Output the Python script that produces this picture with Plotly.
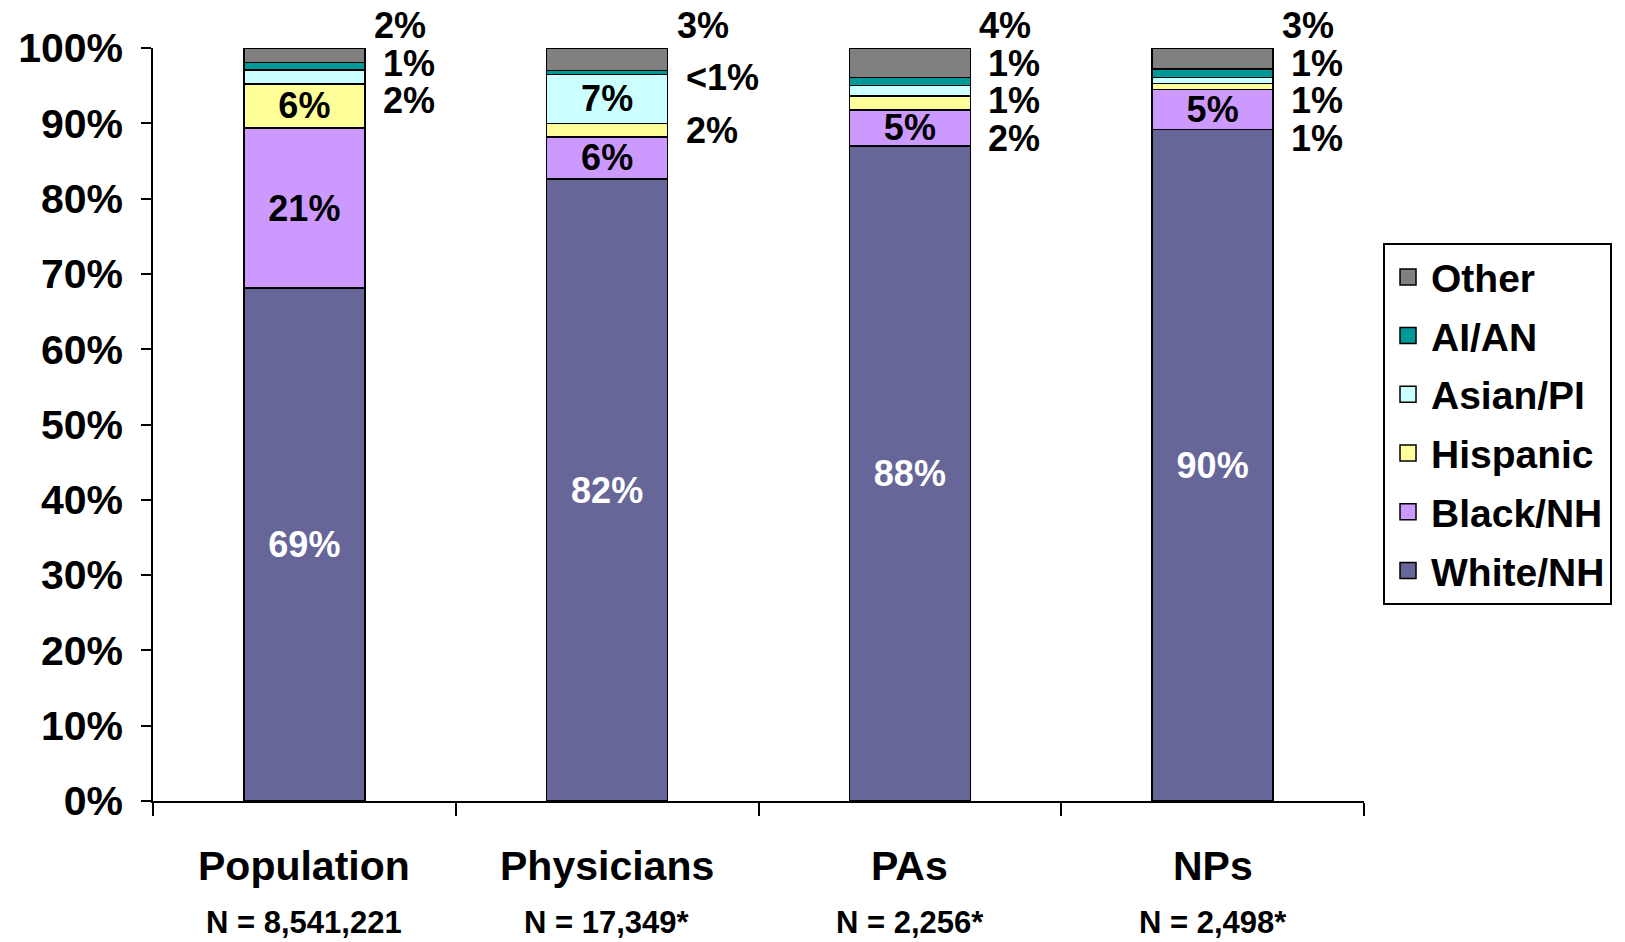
import plotly.graph_objects as go

# categories and sample sizes
categories = ["Population", "Physicians", "PAs", "NPs"]
sample_sizes = ["N = 8,541,221", "N = 17,349*", "N = 2,256*", "N = 2,498*"]

# percent shares (bottom to top of each bar)
white_nh = [68.1, 82.6, 87.0, 89.2]
black_nh = [21.3, 5.6, 4.8, 5.3]
hispanic = [5.8, 1.8, 1.8, 0.8]
asian_pi = [1.9, 6.5, 1.4, 0.8]
ai_an = [1.0, 0.5, 1.1, 1.1]
other = [1.9, 3.0, 3.9, 2.8]

# printed labels
white_lbl = ["69%", "82%", "88%", "90%"]
black_lbl = ["21%", "6%", "5%", "5%"]
hispanic_lbl = ["6%", "2%", "2%", "1%"]
asian_lbl = ["2%", "7%", "1%", "1%"]
aian_lbl = ["1%", "<1%", "1%", "1%"]
other_lbl = ["2%", "3%", "4%", "3%"]

FONT = "Liberation Sans, Arial, sans-serif"
BAR_W = 0.4
INSIDE_MIN = 4.5  # smaller segments get their label beside the bar
Y_MAX = 100

series = [
    ("White/NH", white_nh, white_lbl, "#666699", "white"),
    ("Black/NH", black_nh, black_lbl, "#CC99FF", "black"),
    ("Hispanic", hispanic, hispanic_lbl, "#FFFF99", "black"),
    ("Asian/PI", asian_pi, asian_lbl, "#CCFFFF", "black"),
    ("AI/AN", ai_an, aian_lbl, "#009999", "black"),
    ("Other", other, other_lbl, "#808080", "black"),
]

xs = list(range(len(categories)))

fig = go.Figure()
for name, vals, lbls, color, tcolor in series:
    inside = [l if v >= INSIDE_MIN else "" for v, l in zip(vals, lbls)]
    fig.add_trace(go.Bar(
        x=xs, y=vals, name=name, width=BAR_W, showlegend=False,
        marker=dict(color=color, line=dict(color="black", width=1.5)),
        text=inside, textposition="inside", insidetextanchor="middle",
        textangle=0, constraintext="none",
        textfont=dict(family=FONT, size=36, color=tcolor, weight="bold"),
        hoverinfo="skip",
    ))

# legend entries with big square swatches, Other on top
for name, vals, lbls, color, tcolor in reversed(series):
    fig.add_trace(go.Scatter(
        x=[None], y=[None], mode="markers", name=name, legendgroup=name,
        marker=dict(symbol="square", size=24, color=color,
                    line=dict(color="black", width=1.5)),
    ))

# labels for thin segments, stacked beside the bar from the top down
for i in xs:
    base = 0
    centers = []
    for name, vals, lbls, color, tcolor in series:
        centers.append((base + vals[i] / 2, vals[i], lbls[i]))
        base += vals[i]
    outside = [c for c in reversed(centers[2:]) if c[1] < INSIDE_MIN]
    n = len(outside)
    top = base + 3
    step = 5.0
    if n > 1:
        step = max(5.0, (top - outside[-1][0]) / (n - 1))
    for k, (c, v, lbl) in enumerate(outside):
        fig.add_annotation(
            x=i + BAR_W / 2, y=(top - k * step) / Y_MAX, xref="x", yref="paper",
            text=lbl, showarrow=False, xanchor="left", yanchor="middle",
            xshift=7 if k == 0 else 16,
            font=dict(family=FONT, size=36, color="black", weight="bold"),
        )

# category names and sample sizes under the axis
for i, (cat, n_lbl) in enumerate(zip(categories, sample_sizes)):
    fig.add_annotation(x=i, y=-0.086, xref="x", yref="paper", text=cat,
                       showarrow=False, yanchor="middle",
                       font=dict(family=FONT, size=41, color="black", weight="bold"))
    fig.add_annotation(x=i, y=-0.162, xref="x", yref="paper", text=n_lbl,
                       showarrow=False, yanchor="middle",
                       font=dict(family=FONT, size=31, color="black", weight="bold"))

fig.update_layout(
    width=1625, height=942,
    margin=dict(l=153, r=261, t=48, b=141),
    barmode="stack", bargap=0.6,
    plot_bgcolor="white", paper_bgcolor="white",
    font=dict(family=FONT, color="black", weight="bold"),
    legend=dict(
        x=1.0157, y=0.741, xanchor="left", yanchor="top",
        traceorder="grouped", tracegroupgap=5, itemsizing="trace",
        itemwidth=36,
        bordercolor="black", borderwidth=2, bgcolor="white",
        font=dict(family=FONT, size=39, color="black", weight="bold"),
    ),
    showlegend=True,
)
fig.update_xaxes(
    range=[-0.5, len(categories) - 0.5],
    tickvals=[x - 0.5 for x in range(len(categories) + 1)],
    showticklabels=False, ticks="outside", ticklen=13, tickwidth=1.5,
    tickcolor="black", showline=True, linecolor="black", linewidth=1.5,
    showgrid=False, zeroline=False,
)
fig.update_yaxes(
    range=[0, Y_MAX], tickvals=list(range(0, 101, 10)),
    ticktext=[f"{v}%" for v in range(0, 101, 10)],
    ticks="outside", ticklen=10, tickwidth=1.5, tickcolor="black",
    ticklabelstandoff=10,
    tickfont=dict(family=FONT, size=41, color="black", weight="bold"),
    showline=True, linecolor="black", linewidth=1.5,
    showgrid=False, zeroline=False,
)

# drop the browser's default body margin so the figure fills the window
fig.write_html("out.html", config={"displayModeBar": False},
               post_script="document.body.style.margin = '0';")
